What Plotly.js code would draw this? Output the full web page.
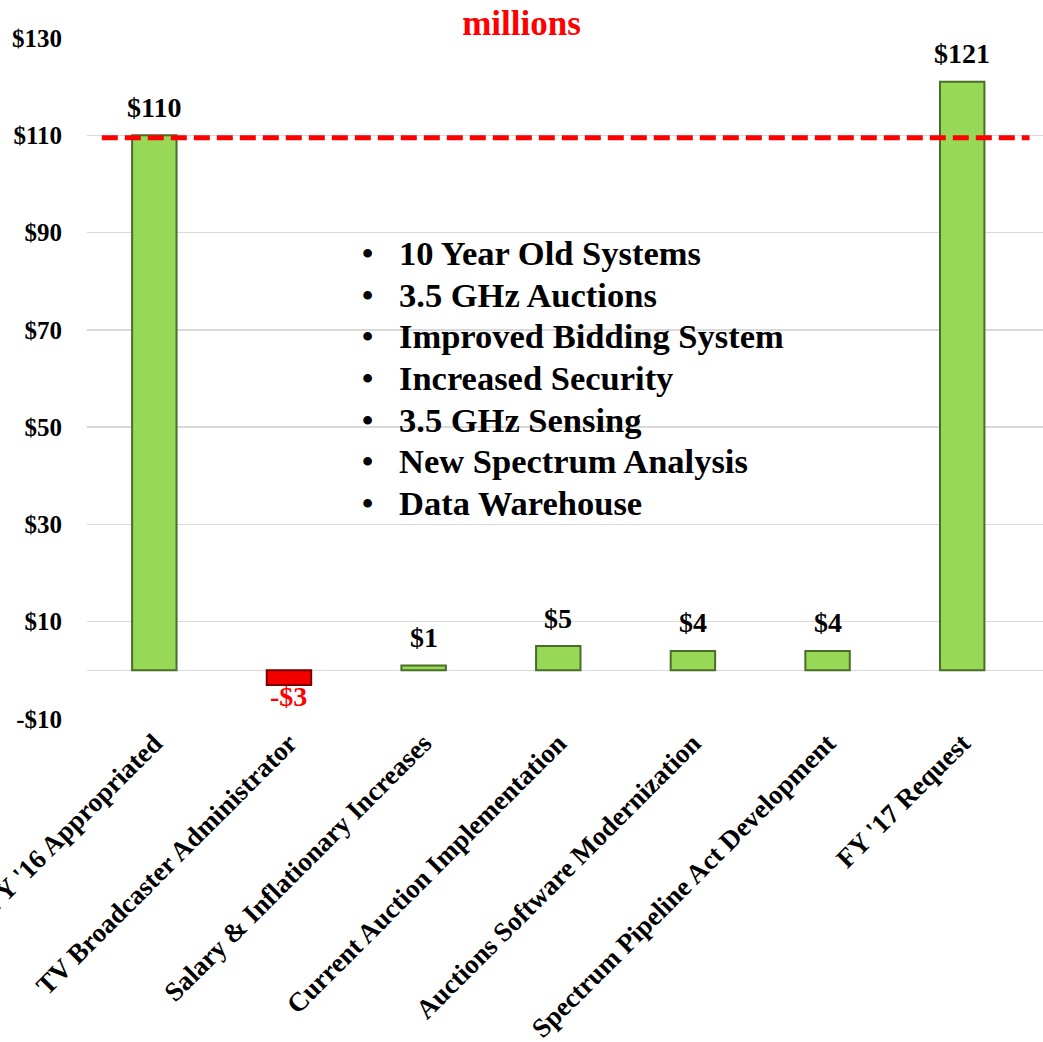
<!DOCTYPE html>
<html>
<head>
<meta charset="utf-8">
<script src="https://cdn.plot.ly/plotly-3.0.1.min.js"></script>
<style>html,body{margin:0;padding:0;background:#fff;}#chart{width:1043px;height:1042px;}</style>
</head>
<body>
<div id="chart"></div>
<script>
// ---- data ----
const categories = ["FY '16 Appropriated", "TV Broadcaster Administrator", "Salary & Inflationary Increases",
  "Current Auction Implementation", "Auctions Software Modernization", "Spectrum Pipeline Act Development", "FY '17 Request"];
const values = [110, -3, 1, 5, 4, 4, 121];
const valueLabels = ["$110", "-$3", "$1", "$5", "$4", "$4", "$121"];
const tickValues = [-10, 10, 30, 50, 70, 90, 110, 130];
const tickLabels = ["-$10", "$10", "$30", "$50", "$70", "$90", "$110", "$130"];
const referenceLevel = 109.5;
const bulletItems = ["10 Year Old Systems", "3.5 GHz Auctions", "Improved Bidding System", "Increased Security",
  "3.5 GHz Sensing", "New Spectrum Analysis", "Data Warehouse"];
const chartTitle = "millions";

// ---- styling ----
const FONT = "'Liberation Serif', 'Times New Roman', serif";
const W = 1043, H = 1042;
const M = {l: 87, r: 0, t: 38, b: 323};
const plotW = W - M.l - M.r, plotH = H - M.t - M.b;
const fills = values.map(v => v < 0 ? '#f20000' : '#97d857');
const edges = values.map(v => v < 0 ? '#7a0000' : '#4a6e28');

const trace = {
  type: 'bar', x: categories, y: values,
  marker: {color: fills, line: {color: edges, width: 2}},
  width: 0.33, hoverinfo: 'skip'
};

const annotations = [];
values.forEach((v, i) => {
  annotations.push({
    x: categories[i], y: v, xref: 'x', yref: 'y', text: valueLabels[i], showarrow: false,
    yanchor: 'middle', yshift: v < 0 ? -12 : 28,
    font: {family: FONT, size: 28, weight: 'bold', color: v < 0 ? '#ff0000' : '#000000'}
  });
});
const rowTop = 253, rowStep = 41.7;
bulletItems.forEach((t, i) => {
  const py = 1 - (rowTop + i * rowStep - M.t) / plotH;
  annotations.push({xref: 'paper', yref: 'paper', x: (367 - M.l) / plotW, y: py, xanchor: 'center', yanchor: 'middle',
    text: '•', showarrow: false, font: {family: FONT, size: 32, weight: 'bold', color: '#000'}});
  annotations.push({xref: 'paper', yref: 'paper', x: (397 - M.l) / plotW, y: py, xanchor: 'left', yanchor: 'middle',
    text: t, showarrow: false, font: {family: FONT, size: 34.5, weight: 'bold', color: '#000'}});
});

const layout = {
  width: W, height: H, margin: M,
  paper_bgcolor: '#fff', plot_bgcolor: '#fff',
  showlegend: false,
  title: {text: chartTitle, x: 0.5, xanchor: 'center', y: 1 - 23 / H, yanchor: 'middle',
    font: {family: FONT, size: 35, weight: 'bold', color: '#ff0000'}},
  xaxis: {type: 'category', range: [-0.5, 6.6], tickangle: -45, showgrid: false, showline: false, zeroline: false,
    ticks: '', tickfont: {family: FONT, size: 27, weight: 'bold', color: '#000'}, automargin: false, ticklabelstandoff: 2},
  yaxis: {range: [-10, 130], tickmode: 'array', tickvals: tickValues, ticktext: tickLabels,
    showgrid: true, gridcolor: '#d9d9d9', gridwidth: 1.5, zeroline: true, zerolinecolor: '#d9d9d9', zerolinewidth: 1.5,
    showline: false, ticks: '', ticklabelstandoff: 24, automargin: false,
    tickfont: {family: FONT, size: 25, weight: 'bold', color: '#000'}},
  shapes: [{type: 'line', xref: 'x', yref: 'y', x0: -0.39, x1: 6.5, y0: referenceLevel, y1: referenceLevel,
    line: {color: '#ff0000', width: 5, dash: '16px,7px'}}],
  annotations: annotations
};

Plotly.newPlot('chart', [trace], layout, {displayModeBar: false, staticPlot: true});
</script>
</body>
</html>
